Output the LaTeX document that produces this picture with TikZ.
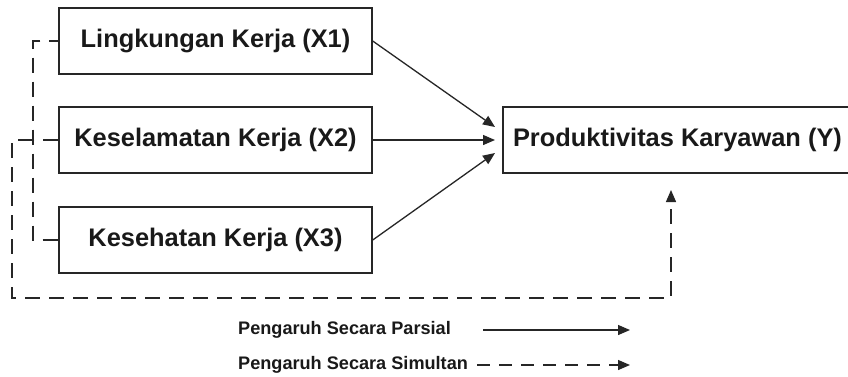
\documentclass[tikz,border=0pt]{standalone}
\usepackage{fontspec}
\setmainfont{Liberation Sans}
\usetikzlibrary{arrows.meta}
\begin{document}
\begin{tikzpicture}[x=1bp,y=-1bp,
  box/.style={draw=black!85,line width=1.4bp,minimum width=313bp,minimum height=66bp,inner sep=0pt,
    font=\fontsize{25.5}{30}\selectfont\bfseries,text=black!90},
  ybox/.style={box,minimum width=349bp},
  arr/.style={line width=1.3bp,draw=black!85,-{Triangle[length=12bp,width=10bp]}},
  dsh/.style={line width=1.3bp,draw=black!85,dash pattern=on 15bp off 9bp},
  darr/.style={dsh,-{Triangle[length=12bp,width=10bp]}},
  leg/.style={anchor=west,inner sep=0pt,font=\fontsize{18.2}{22}\selectfont\bfseries,text=black!90}]
\useasboundingbox[fill=white] (0,0) rectangle (848,376);
\node[box] (X1) at (215.5,41) {Lingkungan Kerja (X1)};
\node[box] (X2) at (215.5,140) {Keselamatan Kerja (X2)};
\node[box] (X3) at (215.5,240) {Kesehatan Kerja (X3)};
\node[ybox] (Y) at (677.5,140) {Produktivitas Karyawan (Y)};
% arrow targets
\coordinate (t1) at (495,127);
\coordinate (t2) at (495,140);
\coordinate (t3) at (495,153);
\draw[arr] (X1.east) -- (t1);
\draw[arr] (X2.east) -- (t2);
\draw[arr] (X3.east) -- (t3);
% inner dashed bracket
\coordinate (i1) at (33,41);
\coordinate (i2) at (33,140);
\coordinate (i3) at (33,240);
\draw[dsh,dash phase=6bp] (X1.west) -- (i1) -- (i3) -- (X3.west);
\draw[dsh] (X2.west) -- (i2);
% outer dashed
\coordinate (o1) at (12,140);
\coordinate (o2) at (12,298);
\coordinate (o3) at (671,298);
\coordinate (o4) at (671,190);
\draw[darr] (i2) -- (o1) -- (o2) -- (o3) -- (o4);
% legend
\node[leg] (L1) at (238,330) {Pengaruh Secara Parsial};
\node[leg] (L2) at (238,365) {Pengaruh Secara Simultan};
\coordinate (a1) at (483,330);
\coordinate (b1) at (630,330);
\coordinate (a2) at (477,365);
\coordinate (b2) at (630,365);
\draw[arr] (a1) -- (b1);
\draw[line width=1.3bp,draw=black!85,dash pattern=on 13bp off 9bp,-{Triangle[length=12bp,width=10bp]}] (a2) -- (b2);
\end{tikzpicture}
\end{document}
